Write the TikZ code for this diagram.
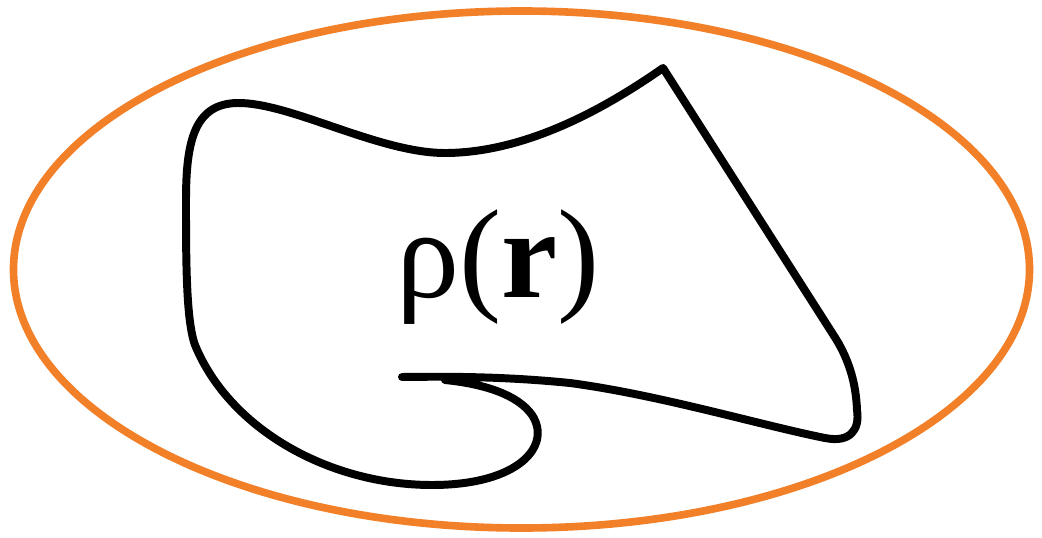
\documentclass[tikz,border=0pt]{standalone}
\usepackage{fontspec}
\setmainfont{Liberation Serif}
\definecolor{ringorange}{RGB}{242,128,40}
\begin{document}
\begin{tikzpicture}[x=0.03cm,y=-0.03cm,
  ring/.style={draw=ringorange,line width=6.5pt},
  blob/.style={draw=black,line width=6.8pt,line cap=round,line join=round},
  label/.style={font=\fontsize{108}{120}\selectfont,inner sep=0pt,anchor=base}]
\useasboundingbox (0,0) rectangle (1042,538);
\fill[white] (0,0) rectangle (1042,538);
\draw[ring] (521.5,269.5) ellipse [x radius=508, y radius=258.5];
\draw[blob] (402,377)
  .. controls (470,376) and (520,378) .. (570,383)
  .. controls (660,395) and (760,425) .. (825,438)
  .. controls (850,443) and (860,430) .. (857,410)
  .. controls (856,385) and (850,362) .. (836,339)
  -- (663,68)
  .. controls (610,105) and (530,152) .. (447,153)
  .. controls (380,154) and (290,102) .. (237,103)
  .. controls (195,104) and (186,140) .. (186,200)
  .. controls (186,260) and (186,320) .. (195,345)
  .. controls (230,430) and (330,485) .. (432,485)
  .. controls (520,485) and (552,445) .. (532,415)
  .. controls (518,395) and (485,384) .. (445,380);
\node[label] (rho) at (498,297) {ρ(\textbf{r})};
\end{tikzpicture}
\end{document}
